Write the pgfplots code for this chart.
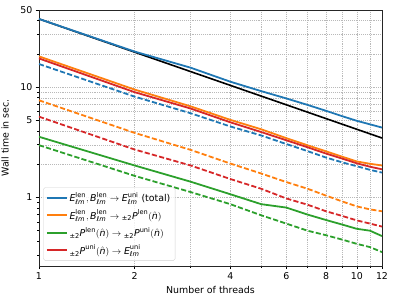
\documentclass[border=0pt]{standalone}
\usepackage{fontspec}
\setmainfont{DejaVu Sans}
\usepackage{amsmath}
\usepackage{pgfplots}
\pgfplotsset{compat=1.18}
\definecolor{c0}{HTML}{1F77B4}
\definecolor{c1}{HTML}{FF7F0E}
\definecolor{c2}{HTML}{2CA02C}
\definecolor{c3}{HTML}{D62728}
\newcommand{\lm}{\text{\itshape ℓm}}
\newcommand{\Vv}[3]{\text{\itshape #1}^{\text{#2}}_{#3}}
\newcommand{\sP}[1]{{}_{\text{±2}}\text{\itshape P}^{\text{#1}}(\hat{\text{\itshape n}})}
\pgfplotsset{
  ln/.style={line width=1.9pt},
  dl/.style={line width=1.9pt, dash pattern=on 5.5pt off 2.4pt},
}
\begin{document}
\begin{tikzpicture}
\begin{axis}[
  scale only axis, width=364pt, height=271.5pt,
  xmode=log, ymode=log,
  xmin=1, xmax=12, ymin=0.24, ymax=50,
  xtick={1,2,4,6,8,10,12}, xticklabels={1,2,4,6,8,10,12},
  minor xtick={3,5,7,9,11},
  ytick={1,5,10,50}, yticklabels={1,5,10,50},
  minor ytick={2,3,4,6,7,8,9,20,30,40},
  extra y ticks={0.3,0.4,0.5,0.6,0.7,0.8,0.9},
  extra y tick labels={},
  extra y tick style={grid=none, major tick length=2pt},
  /pgf/number format/assume math mode=true,
  tick align=outside, xtick pos=bottom, ytick pos=left,
  major tick length=3.5pt, minor tick length=2pt,
  tick style={black, line width=0.7pt},
  grid=both,
  major grid style={dash pattern=on 1pt off 1pt, gray!55, line width=0.45pt},
  minor grid style={dash pattern=on 1pt off 1pt, gray!55, line width=0.45pt},
  axis line style={black!85, line width=0.8pt},
  xlabel={Number of threads}, ylabel={Wall time in sec.},
  legend cell align=left,
  legend style={at={(axis description cs:0.012,0.02)}, anchor=south west,
    draw=gray!35, rounded corners=2pt, fill=white, fill opacity=0.8, text opacity=1,
    row sep=3pt, inner xsep=3pt, inner ysep=3pt},
  legend image code/.code={\draw[#1] (0pt,0pt) -- (21pt,0pt);},
]
\addplot[black, line width=1.7pt, forget plot] coordinates {(1,41.5) (12,3.458)};
\addplot[c0, ln] coordinates {(1,41.5) (2,21.0) (3,15.0) (4,11.2) (5,9.2) (6,7.9) (7,6.9) (8,6.1) (9,5.45) (10,4.95) (11,4.6) (12,4.3)};
\addlegendentry{$\Vv{E}{len}{\lm}, \Vv{B}{len}{\lm} \rightarrow \Vv{E}{uni}{\lm}$ (total)}
\addplot[c1, ln] coordinates {(1,19.0) (2,9.5) (3,6.7) (4,5.05) (5,4.15) (6,3.45) (7,2.97) (8,2.62) (9,2.34) (10,2.12) (11,2.02) (12,1.95)};
\addlegendentry{$\Vv{E}{len}{\lm}, \Vv{B}{len}{\lm} \rightarrow \sP{len}$}
\addplot[c2, ln] coordinates {(1,3.55) (2,1.95) (3,1.39) (4,1.07) (5,0.87) (6,0.81) (7,0.70) (8,0.625) (9,0.568) (10,0.52) (11,0.50) (12,0.447)};
\addlegendentry{$\sP{len} \rightarrow \sP{uni}$}
\addplot[c3, ln] coordinates {(1,18.2) (2,9.0) (3,6.4) (4,4.8) (5,3.92) (6,3.3) (7,2.85) (8,2.5) (9,2.25) (10,2.04) (11,1.9) (12,1.8)};
\addlegendentry{$\sP{uni} \rightarrow \Vv{E}{uni}{\lm}$}
\addplot[c0, dl, forget plot] coordinates {(1,16.2) (2,8.2) (3,5.8) (4,4.4) (5,3.65) (6,3.05) (7,2.63) (8,2.3) (9,2.08) (10,1.92) (11,1.78) (12,1.68)};
\addplot[c1, dl, forget plot] coordinates {(1,7.6) (2,3.85) (3,2.7) (4,2.03) (5,1.65) (6,1.38) (7,1.2) (8,1.04) (9,0.92) (10,0.83) (11,0.78) (12,0.75)};
\addplot[c2, dl, forget plot] coordinates {(1,2.98) (2,1.57) (3,1.12) (4,0.87) (5,0.69) (6,0.58) (7,0.50) (8,0.455) (9,0.415) (10,0.38) (11,0.355) (12,0.32)};
\addplot[c3, dl, forget plot] coordinates {(1,5.4) (2,2.72) (3,1.95) (4,1.47) (5,1.2) (6,0.98) (7,0.86) (8,0.75) (9,0.68) (10,0.62) (11,0.58) (12,0.545)};
\end{axis}
\pgfresetboundingbox
\path ([shift={(-41.3pt,-38.2pt)}]current axis.south west) rectangle ([shift={(13.8pt,10.6pt)}]current axis.north east);
\end{tikzpicture}
\end{document}
